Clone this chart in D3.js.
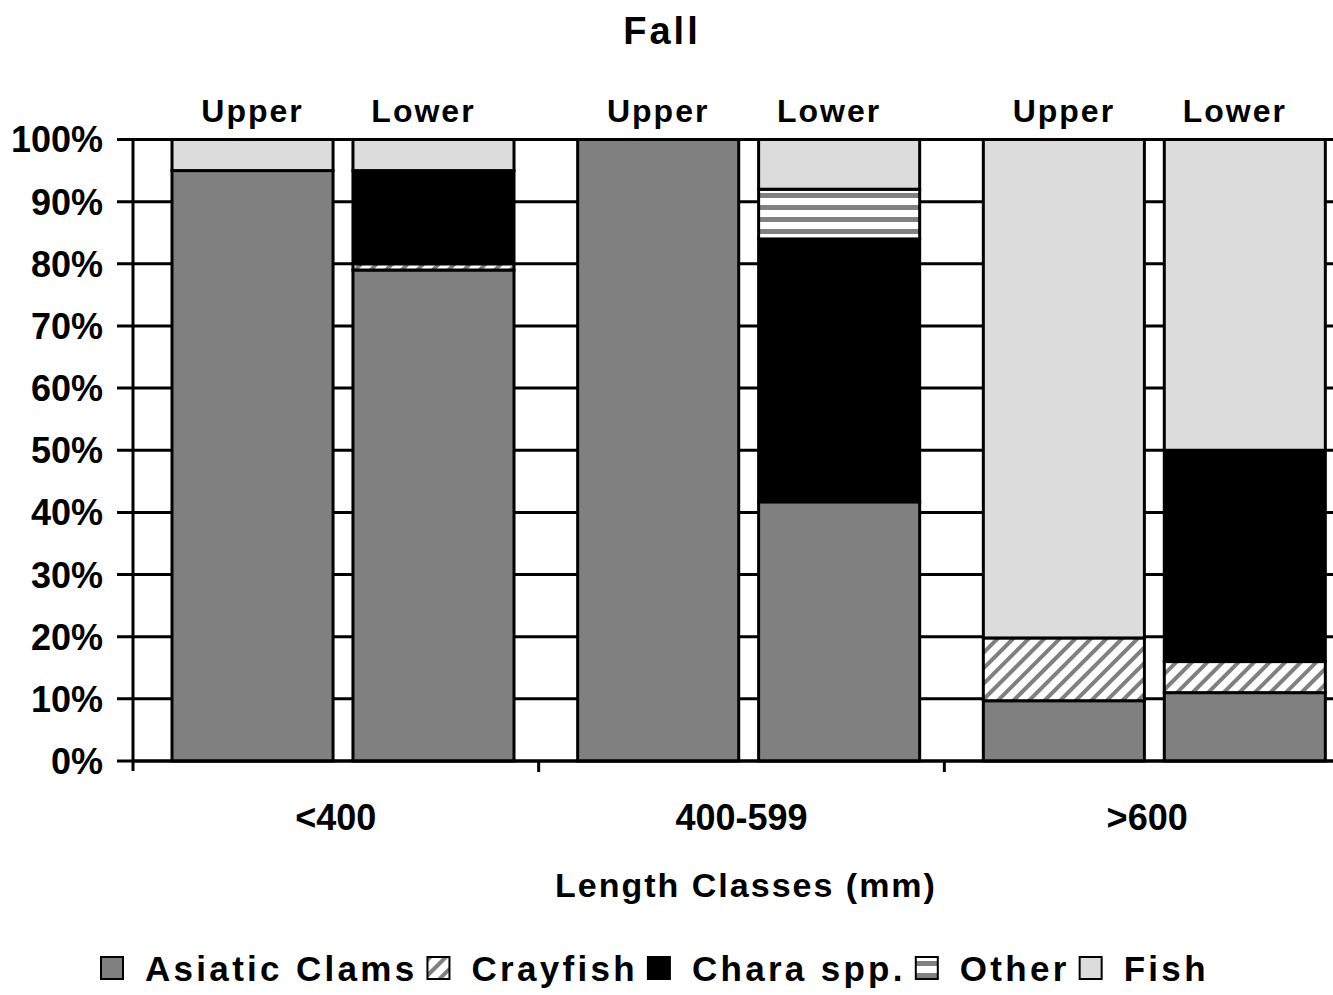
<!DOCTYPE html>
<html>
<head>
<meta charset="utf-8">
<script src="https://cdn.jsdelivr.net/npm/d3@7"></script>
<style>
  body { margin: 0; background: #fff; }
  text { font-family: "Liberation Sans", Arial, sans-serif; font-weight: bold; fill: #000; }
</style>
</head>
<body>
<svg id="chart" width="1333" height="995"></svg>
<script>
// chart values
var categories = ['<400', '400-599', '>600'];
var sites = ['Upper', 'Lower'];
var seriesNames = ['Asiatic Clams', 'Crayfish', 'Chara spp.', 'Other', 'Fish'];
// one value per bar, order: <400 Upper, <400 Lower, 400-599 Upper, 400-599 Lower, >600 Upper, >600 Lower
var asiaticClams = [95, 79, 100, 41.7, 9.7, 11];
var crayfish     = [0, 1, 0, 0, 10.1, 5];
var charaSpp     = [0, 15, 0, 42.3, 0, 34];
var other        = [0, 0, 0, 8, 0, 0];
var fish         = [5, 5, 0, 8, 80.2, 50];
var yTicks = [0, 10, 20, 30, 40, 50, 60, 70, 80, 90, 100];

var svg = d3.select('#chart');
svg.append('rect').attr('width', 1333).attr('height', 995).attr('fill', '#fff');

// patterns
var defs = svg.append('defs');
var diag = defs.append('pattern').attr('id', 'diag').attr('patternUnits', 'userSpaceOnUse')
  .attr('width', 11).attr('height', 11).attr('patternTransform', 'rotate(45)');
diag.append('rect').attr('width', 11).attr('height', 11).attr('fill', '#fff');
diag.append('rect').attr('x', 0).attr('width', 4).attr('height', 11).attr('fill', '#808080');

var horiz = defs.append('pattern').attr('id', 'horiz').attr('patternUnits', 'userSpaceOnUse')
  .attr('width', 12).attr('height', 12).attr('y', 1);
horiz.append('rect').attr('width', 12).attr('height', 12).attr('fill', '#fff');
horiz.append('rect').attr('width', 12).attr('height', 5).attr('fill', '#808080');

var fills = ['#808080', 'url(#diag)', '#000000', 'url(#horiz)', '#dcdcdc'];

// table built from the arrays
var rows = [];
var k = 0;
categories.forEach(function(c){
  sites.forEach(function(s){
    var r = { cat: c, site: s };
    r[seriesNames[0]] = asiaticClams[k];
    r[seriesNames[1]] = crayfish[k];
    r[seriesNames[2]] = charaSpp[k];
    r[seriesNames[3]] = other[k];
    r[seriesNames[4]] = fish[k];
    rows.push(r);
    k++;
  });
});

var plotLeft = 133, plotRight = 1350, plotTop = 139.5, plotBottom = 761;

var x0 = d3.scaleBand().domain(categories).range([plotLeft, plotRight]);
var x1 = d3.scaleBand().domain(sites).range([39, 381]).paddingInner(0.11);
var y = d3.scaleLinear().domain([0, 100]).range([plotBottom, plotTop]);

// gridlines
svg.append('g').selectAll('line').data(yTicks).enter().append('line')
  .attr('x1', plotLeft - 16).attr('x2', 1333)
  .attr('y1', function(d){ return y(d); }).attr('y2', function(d){ return y(d); })
  .attr('stroke', '#000').attr('stroke-width', 3);

// y tick labels
svg.append('g').selectAll('text').data(yTicks).enter().append('text')
  .attr('x', 103).attr('y', function(d){ return y(d); })
  .attr('dy', '0.36em').attr('text-anchor', 'end')
  .style('font-size', '36px')
  .text(function(d){ return d + '%'; });

// left axis line
svg.append('line').attr('x1', plotLeft).attr('x2', plotLeft)
  .attr('y1', plotTop - 1.5).attr('y2', plotBottom + 10)
  .attr('stroke', '#000').attr('stroke-width', 3);

// stacked bars
var stack = d3.stack().keys(seriesNames);
var layers = stack(rows);
var gBars = svg.append('g');
layers.forEach(function(layer, i){
  gBars.append('g').selectAll('rect')
    .data(layer.filter(function(d){ return d[1] - d[0] > 0; }))
    .enter().append('rect')
    .attr('x', function(d){ return x0(d.data.cat) + x1(d.data.site); })
    .attr('width', x1.bandwidth())
    .attr('y', function(d){ return y(d[1]); })
    .attr('height', function(d){ return y(d[0]) - y(d[1]); })
    .attr('fill', fills[i])
    .attr('stroke', '#000').attr('stroke-width', 3);
});

// x axis
svg.append('line').attr('x1', plotLeft).attr('x2', 1333)
  .attr('y1', plotBottom).attr('y2', plotBottom)
  .attr('stroke', '#000').attr('stroke-width', 3);
svg.append('g').selectAll('line').data(categories.slice(1)).enter().append('line')
  .attr('x1', function(d){ return x0(d); }).attr('x2', function(d){ return x0(d); })
  .attr('y1', plotBottom).attr('y2', plotBottom + 11)
  .attr('stroke', '#000').attr('stroke-width', 3);

// category labels
svg.append('g').selectAll('text').data(categories).enter().append('text')
  .attr('x', function(d){ return x0(d) + x0.bandwidth() / 2; })
  .attr('y', 830).attr('text-anchor', 'middle')
  .style('font-size', '36px')
  .text(function(d){ return d; });

// site labels above bars (Excel draws the Lower ones a bit left of centre)
svg.append('g').selectAll('text').data(rows).enter().append('text')
  .attr('x', function(d){ return x0(d.cat) + x1(d.site) + x1.bandwidth() / 2 - (d.site === 'Lower' ? 10 : 0); })
  .attr('y', 122).attr('text-anchor', 'middle')
  .style('font-size', '32px').style('letter-spacing', '2px')
  .text(function(d){ return d.site; });

// title
svg.append('text').attr('x', 662).attr('y', 44).attr('text-anchor', 'middle')
  .style('font-size', '38px').style('letter-spacing', '3px')
  .text('Fall');

// x axis title
svg.append('text').attr('x', 746).attr('y', 897).attr('text-anchor', 'middle')
  .style('font-size', '34px').style('letter-spacing', '2px')
  .text('Length Classes (mm)');

// legend
var legend = svg.append('g');
var lx = 101;
seriesNames.forEach(function(name, i){
  legend.append('rect').attr('x', lx).attr('y', 957).attr('width', 22).attr('height', 22)
    .attr('fill', fills[i]).attr('stroke', '#000').attr('stroke-width', 2);
  var t = legend.append('text').attr('x', lx + 44).attr('y', 981)
    .style('font-size', '35px').style('letter-spacing', '3.3px')
    .text(name);
  lx = lx + 44 + t.node().getComputedTextLength() + 10;
});
</script>
</body>
</html>
